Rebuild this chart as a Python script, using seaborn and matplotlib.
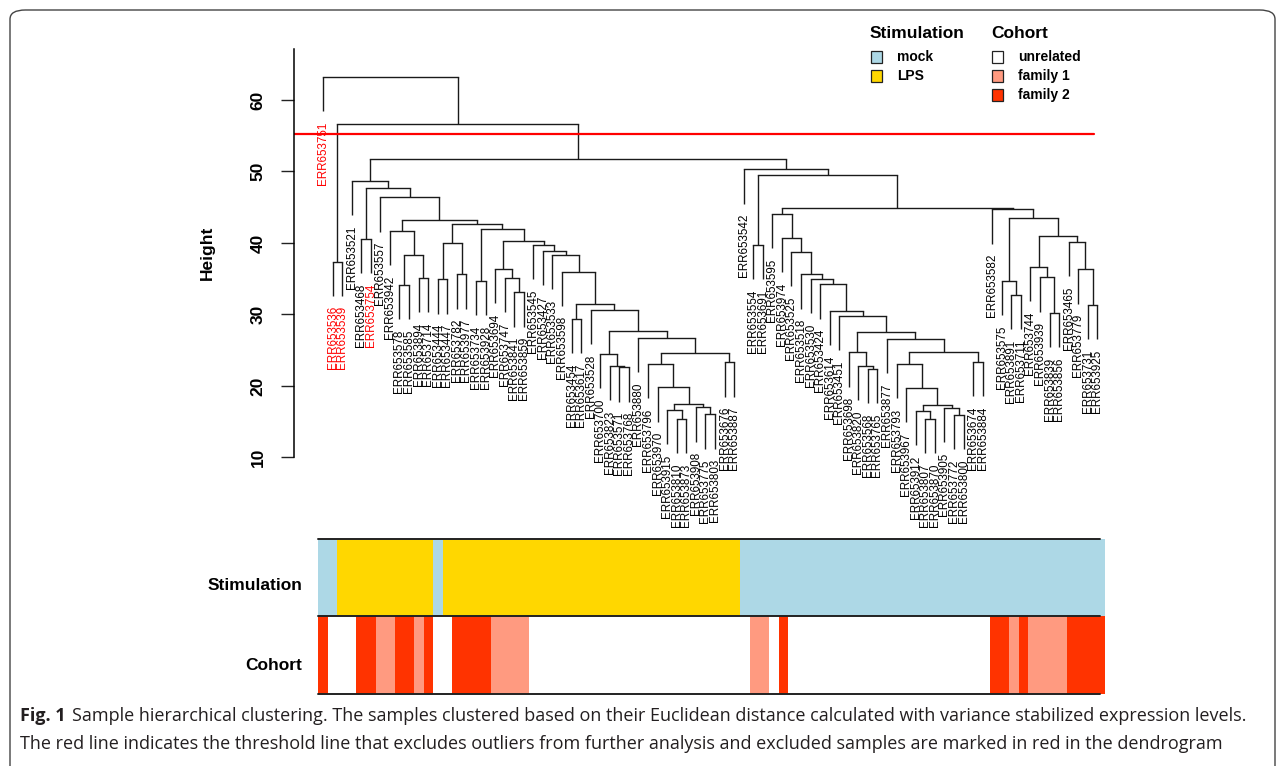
import numpy as np
import matplotlib
matplotlib.use('Agg')
import matplotlib.pyplot as plt
import seaborn as sns
from matplotlib.colors import ListedColormap
from matplotlib.patches import Rectangle, FancyBboxPatch

# dendrogram: node = (merge height, left, right), leaves are sample ids
LOW_LEFT = (26.7, 'ERR653880',
            (24.6, (23.1, 'ERR653796',
                    (19.8, 'ERR653970',
                     (17.4, (16.6, 'ERR653915', (15.4, 'ERR653810', 'ERR653873')),
                      (17.0, 'ERR653908', (16.0, 'ERR653775', 'ERR653803'))))),
             (23.3, 'ERR653676', 'ERR653887')))
MID_LEFT = (31.4, (29.4, 'ERR653454', 'ERR653617'),
            (30.6, 'ERR653528',
             (27.7, (24.5, 'ERR653700', (22.8, 'ERR653823', (22.6, 'ERR653571', 'ERR653768'))),
              LOW_LEFT)))
LEFT_CLUSTER = (48.7, 'ERR653521',
                (47.7, (40.6, 'ERR653468', 'ERR653754'),
                 (46.4, 'ERR653557',
                  (43.2, (41.65, 'ERR653942',
                          (38.3, (34.1, 'ERR653578', 'ERR653585'), (35.1, 'ERR653894', 'ERR653714'))),
                   (42.6, (40.0, (34.9, 'ERR653444', 'ERR653447'), (35.6, 'ERR653782', 'ERR653977')),
                    (42.0, (34.7, 'ERR653734', 'ERR653928'),
                     (40.3, (36.4, 'ERR653694', (35.1, 'ERR653747', (33.1, 'ERR653841', 'ERR653859'))),
                      (39.7, 'ERR653545',
                       (38.9, 'ERR653427',
                        (38.3, 'ERR653533', (36.0, 'ERR653598', MID_LEFT)))))))))))

LOW_RIGHT = (27.55, (24.7, 'ERR653698', (22.8, 'ERR653820', (22.4, 'ERR653568', 'ERR653765'))),
             (26.6, 'ERR653877',
              (24.7, (23.1, 'ERR653793',
                      (19.75, 'ERR653967',
                       (17.3, (16.5, 'ERR653912', (15.4, 'ERR653807', 'ERR653870')),
                        (16.95, 'ERR653905', (15.9, 'ERR653772', 'ERR653800'))))),
               (23.35, 'ERR653674', 'ERR653884'))))
CHAIN_RIGHT = (44.1, 'ERR653595',
               (40.7, 'ERR653974',
                (38.75, 'ERR653525',
                 (35.6, 'ERR653518',
                  (35.0, 'ERR653530',
                   (34.2, 'ERR653424',
                    (30.5, 'ERR653614', (29.8, 'ERR653451', LOW_RIGHT))))))))
FAR_RIGHT = (44.7, 'ERR653582',
             (43.5, (34.7, 'ERR653575', (32.7, 'ERR653891', 'ERR653711')),
              (41.0, (36.65, 'ERR653744', (35.2, 'ERR653939', (30.2, 'ERR653839', 'ERR653856'))),
               (40.15, 'ERR653465', (36.3, 'ERR653779', (31.3, 'ERR653731', 'ERR653925'))))))
RIGHT_CLUSTER = (50.3, 'ERR653542',
                 (49.5, (39.7, 'ERR653554', 'ERR653691'), (44.9, CHAIN_RIGHT, FAR_RIGHT)))

TREE = (63.2, 'ERR653751',
        (56.7, (37.4, 'ERR653536', 'ERR653539'), (51.7, LEFT_CLUSTER, RIGHT_CLUSTER)))

OUTLIERS = ['ERR653751', 'ERR653536', 'ERR653539', 'ERR653754']
THRESHOLD = 55.2
HANG = 4.8

# colour bars, as (level index, number of leaves) runs in leaf order
STIM_LEVELS = ['mock', 'LPS']
STIM_RUNS = [(0, 2), (1, 10), (0, 1), (1, 31), (0, 38)]
COHORT_LEVELS = ['unrelated', 'family 1', 'family 2']
COHORT_RUNS = [(2, 1), (0, 3), (2, 2), (1, 2), (2, 2), (1, 1), (2, 1), (0, 2), (2, 4), (1, 4),
               (0, 23), (1, 2), (0, 1), (2, 1), (0, 21), (2, 2), (1, 1), (2, 1), (1, 4), (2, 4)]

STIM_COLORS = ['#ADD8E6', '#FFD700']
COHORT_COLORS = ['#FFFFFF', '#FF9A80', '#FF3300']

CAPTION_1 = ('Sample hierarchical clustering. The samples clustered based on their Euclidean '
             'distance calculated with variance stabilized expression levels.')
CAPTION_2 = ('The red line indicates the threshold line that excludes outliers from further '
             'analysis and excluded samples are marked in red in the dendrogram')

W, H = 1284, 766


def fx(px):
    return px / W


def fy(py):
    return 1 - py / H


def expand(runs):
    return np.concatenate([np.full(n, code) for code, n in runs])


sns.set_style('white')
plt.rcParams['font.family'] = ['Liberation Sans', 'DejaVu Sans']
plt.rcParams['text.color'] = 'black'
plt.rcParams['axes.labelcolor'] = 'black'
plt.rcParams['ytick.color'] = 'black'

fig = plt.figure(figsize=(W / 100, H / 100), dpi=100)

# outer rounded frame
fig.add_artist(FancyBboxPatch((fx(10), fy(800)), fx(1275) - fx(10), fy(10) - fy(800),
                              boxstyle='round,pad=0,rounding_size=0.012',
                              transform=fig.transFigure, fill=False,
                              edgecolor='#444444', linewidth=1.0))

ax = fig.add_axes([fx(294), fy(457.3), fx(1105) - fx(294), fy(49.3) - fy(457.3)])

leaves = []


def walk(node):
    """returns x position and top height of node; draws the branches"""
    if isinstance(node, str):
        leaves.append(node)
        return len(leaves) - 1, None
    h, left, right = node
    xl, hl = walk(left)
    xr, hr = walk(right)
    for x, hc, child in ((xl, hl, left), (xr, hr, right)):
        bottom = hc if hc is not None else h - HANG
        ax.plot([x, x], [h, bottom], color='#1a1a1a', lw=1.0, solid_capstyle='butt')
        if hc is None:
            ax.annotate(child, (x, h - HANG), xytext=(0, -7.5), textcoords='offset points',
                        rotation=90, ha='center', va='top', fontsize=8.4,
                        color='red' if child in OUTLIERS else 'black', annotation_clip=False)
    ax.plot([xl, xr], [h, h], color='#1a1a1a', lw=1.0, solid_capstyle='projecting')
    return (xl + xr) / 2, h


walk(TREE)
n = len(leaves)

ax.set_xlim((294 - 323) / 9.56, (1105 - 323) / 9.56)
ax.set_ylim(10, 67.1)
ax.axhline(THRESHOLD, xmin=0, xmax=(1094 - 294) / (1105 - 294), color='red', lw=1.6)
for s in ['top', 'right', 'bottom']:
    ax.spines[s].set_visible(False)
ax.spines['left'].set_color('black')
ax.spines['left'].set_linewidth(1.1)
ax.set_xticks([])
ax.set_yticks([10, 20, 30, 40, 50, 60])
ax.tick_params(axis='y', direction='out', length=9.4, width=1.0, pad=11, color='#222222',
               labelcolor='black', left=True)
for lab in ax.get_yticklabels():
    lab.set_rotation(90)
    lab.set_va('center')
    lab.set_fontweight('bold')
    lab.set_fontsize(12.5)
ax.set_ylabel('Height', fontsize=12.5, fontweight='bold', labelpad=26)

# colour bars
stim = expand(STIM_RUNS)
cohort = expand(COHORT_RUNS)

ax_s = fig.add_axes([fx(318), fy(616), fx(1105) - fx(318), fy(539) - fy(616)])
sns.heatmap(stim.reshape(1, -1), ax=ax_s, cmap=ListedColormap(STIM_COLORS),
            vmin=-0.5, vmax=1.5, cbar=False, xticklabels=False, yticklabels=False)
ax_c = fig.add_axes([fx(318), fy(694), fx(1105) - fx(318), fy(616) - fy(694)])
sns.heatmap(cohort.reshape(1, -1), ax=ax_c, cmap=ListedColormap(COHORT_COLORS),
            vmin=-0.5, vmax=2.5, cbar=False, xticklabels=False, yticklabels=False)
for a in (ax_s, ax_c):
    a.axhline(0, xmax=0.994, color='#222222', lw=1.4, clip_on=False)
ax_c.axhline(1, xmax=0.994, color='#222222', lw=1.4, clip_on=False)

fig.text(fx(302), fy(585), 'Stimulation', ha='right', va='center', fontsize=12.5,
         fontweight='bold')
fig.text(fx(302), fy(666), 'Cohort', ha='right', va='center', fontsize=12.5,
         fontweight='bold')

# legend
def legend_block(x0, title, levels, colors):
    fig.text(fx(x0 - 1), fy(33), title, ha='left', va='center', fontsize=12.5, fontweight='bold')
    for i, (lev, col) in enumerate(zip(levels, colors)):
        yc = 57 + 19 * i
        fig.add_artist(Rectangle((fx(x0), fy(yc + 5.5)), fx(11), 11 / H, facecolor=col,
                                 edgecolor='#222222', lw=0.9, transform=fig.transFigure))
        fig.text(fx(x0 + 26), fy(yc), lev, ha='left', va='center', fontsize=10,
                 fontweight='bold')


legend_block(871, 'Stimulation', STIM_LEVELS, STIM_COLORS)
legend_block(992, 'Cohort', COHORT_LEVELS, COHORT_COLORS)

# caption
cap_font = ['Open Sans', 'DejaVu Sans']
t = fig.text(fx(20), fy(716), 'Fig. 1', ha='left', va='center', fontsize=13,
             fontweight='bold', family=cap_font, color='#231f20')
r = fig.canvas.get_renderer()
bb = t.get_window_extent(renderer=r)
fig.text((bb.x1 + 6) / W, fy(716), CAPTION_1, ha='left', va='center', fontsize=13,
         family=cap_font, color='#231f20')
fig.text(fx(20), fy(744), CAPTION_2, ha='left', va='center', fontsize=13, family=cap_font,
         color='#231f20')

fig.savefig('out.png', dpi=100)
